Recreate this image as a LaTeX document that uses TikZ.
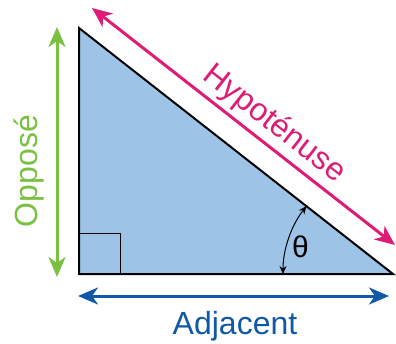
\documentclass[tikz,border=0pt]{standalone}
\usepackage{fontspec}
\setmainfont{Liberation Sans}
\usetikzlibrary{arrows.meta}
\definecolor{fillblue}{RGB}{157,195,230}
\definecolor{oppgreen}{RGB}{122,193,66}
\definecolor{hypmag}{RGB}{222,28,118}
\definecolor{adjblue}{RGB}{16,88,168}
\tikzset{
  bigarrow/.style={line width=3pt,{Stealth[length=20pt,width=17pt,inset=6pt]}-{Stealth[length=20pt,width=17pt,inset=6pt]}},
  lbl/.style={font=\fontsize{32}{38}\selectfont,inner sep=0pt},
}
\begin{document}
\begin{tikzpicture}[x=1pt,y=-1pt]
\useasboundingbox (0,0) rectangle (396,343);
\coordinate (A) at (79,28);
\coordinate (B) at (79,274);
\coordinate (C) at (393,274);
\fill[fillblue] (A) -- (B) -- (C) -- cycle;
\coordinate (R1) at (79,233);
\coordinate (R2) at (120,274);
\draw[line width=1pt] (R1) -| (R2);
\draw[line width=2pt,line join=miter] (A) -- (B) -- (C) -- cycle;
% green
\coordinate (G1) at (57,27);
\coordinate (G2) at (57,277);
\draw[bigarrow,oppgreen] (G1) -- (G2);
\node[lbl,text=oppgreen,rotate=90,anchor=base] (opp) at (37,171) {Opposé};
% blue
\coordinate (B1) at (78,296);
\coordinate (B2) at (389,296);
\draw[bigarrow,adjblue] (B1) -- (B2);
\node[lbl,text=adjblue,anchor=base] (adj) at (235,334) {Adjacent};
% magenta
\coordinate (H1) at (92,8);
\coordinate (H2) at (395,245);
\draw[bigarrow,hypmag] (H1) -- (H2);
\node[lbl,text=hypmag,rotate=-38.07,anchor=base] (hyp) at (269,131) {Hypoténuse};
% angle
\draw[line width=1pt,{Stealth[length=8pt,width=7pt]}-{Stealth[length=8pt,width=7pt]}] (C) ++(180:110) arc[start angle=180,end angle=218.07,radius=110];
\node[lbl,font=\fontsize{30}{36}\selectfont] (theta) at (300.5,247) {θ};
\end{tikzpicture}
\end{document}
